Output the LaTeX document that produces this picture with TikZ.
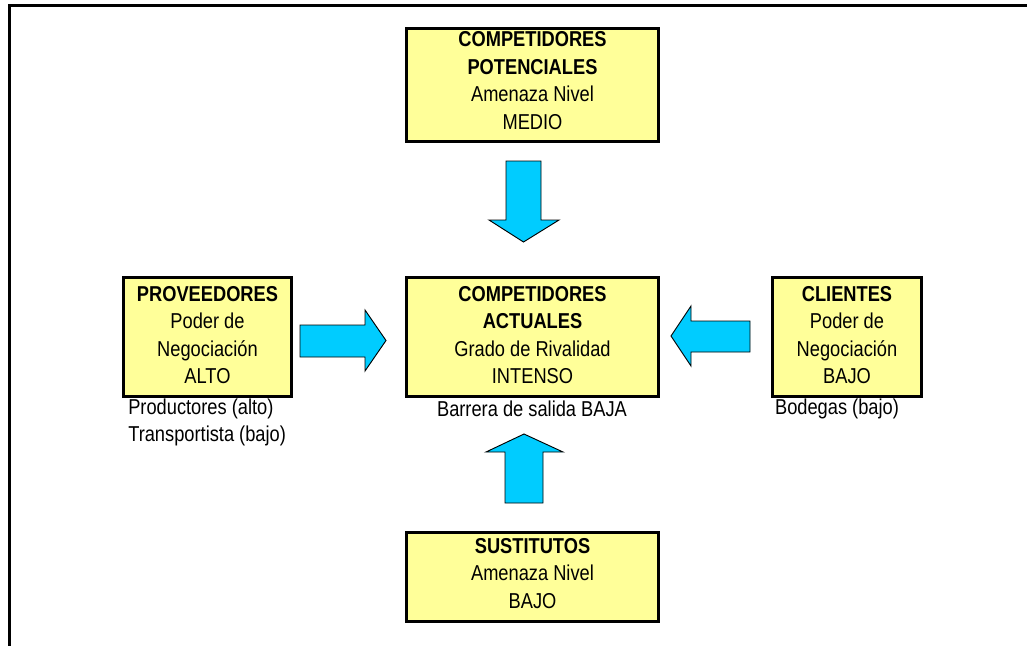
\documentclass[tikz,border=0pt]{standalone}
\usepackage{fontspec}
\setmainfont{Liberation Sans}
\definecolor{boxyellow}{HTML}{FFFF99}
\definecolor{arrowcyan}{HTML}{00CCFF}
\newcommand\stretchln[1]{\scalebox{1}[1.18]{#1}}
\tikzset{
  forcebox/.style={draw=black, line width=2.9pt, fill=boxyellow, rectangle, inner sep=0pt},
  forcetext/.style={align=center, inner sep=0pt, font=\fontsize{13.7}{20.6}\selectfont},
  notetext/.style={inner sep=0pt, font=\fontsize{13.7}{20.6}\selectfont},
  blockarrow/.style={draw=black, line width=0.7pt, fill=arrowcyan, line join=miter},
  framerule/.style={draw=black, line width=2.5pt}
}
\begin{document}
\begin{tikzpicture}[x=0.75pt,y=-0.75pt]
\useasboundingbox (0,0) rectangle (1027,646);
% frame
\coordinate (fTL) at (9.5,5.5);
\coordinate (fTR) at (1027,5.5);
\coordinate (fBL) at (9.5,646);
\draw[framerule] (fTR) -- (fTL) -- (fBL);

% boxes
\node[forcebox, minimum width=189pt, minimum height=84.75pt] (pot) at (532.5,85) {};
\node[forcetext] (potT) at (532.5,80.5) {\stretchln{\textbf{COMPETIDORES}}\\\stretchln{\textbf{POTENCIALES}}\\\stretchln{Amenaza Nivel}\\\stretchln{MEDIO}};

\node[forcebox, minimum width=189pt, minimum height=89.25pt] (act) at (532.5,337) {};
\node[forcetext] (actT) at (532.5,335) {\stretchln{\textbf{COMPETIDORES}}\\\stretchln{\textbf{ACTUALES}}\\\stretchln{Grado de Rivalidad}\\\stretchln{INTENSO}};

\node[forcebox, minimum width=126pt, minimum height=89.25pt] (prov) at (207.5,337) {};
\node[forcetext] (provT) at (207.5,335) {\stretchln{\textbf{PROVEEDORES}}\\\stretchln{Poder de}\\\stretchln{Negociación}\\\stretchln{ALTO}};

\node[forcebox, minimum width=111.75pt, minimum height=89.25pt] (cli) at (847,337) {};
\node[forcetext] (cliT) at (847,335) {\stretchln{\textbf{CLIENTES}}\\\stretchln{Poder de}\\\stretchln{Negociación}\\\stretchln{BAJO}};

\node[forcebox, minimum width=189pt, minimum height=66.75pt] (sus) at (532.5,577) {};
\node[forcetext] (susT) at (532.5,573.5) {\stretchln{\textbf{SUSTITUTOS}}\\\stretchln{Amenaza Nivel}\\\stretchln{BAJO}};

% notes
\node[notetext, anchor=west] (n1) at (128,409) {\stretchln{Productores (alto)}};
\node[notetext, anchor=west] (n2) at (128,436) {\stretchln{Transportista (bajo)}};
\node[notetext] (n3) at (532,409) {\stretchln{Barrera de salida BAJA}};
\node[notetext] (n4) at (837,409) {\stretchln{Bodegas (bajo)}};

% block arrows
\draw[blockarrow] (506,161) -- (541,161) -- (541,220) -- (559,220) -- (523.5,242) -- (489,220) -- (506,220) -- cycle;
\draw[blockarrow] (300,325) -- (365,325) -- (365,310) -- (386,340.5) -- (365,371) -- (365,357) -- (300,357) -- cycle;
\draw[blockarrow] (750,321) -- (691,321) -- (691,306) -- (671,336) -- (691,366) -- (691,352) -- (750,352) -- cycle;
\draw[blockarrow] (505,503) -- (505,452) -- (486,452) -- (524,434) -- (563,452) -- (543,452) -- (543,503) -- cycle;
\end{tikzpicture}
\end{document}
